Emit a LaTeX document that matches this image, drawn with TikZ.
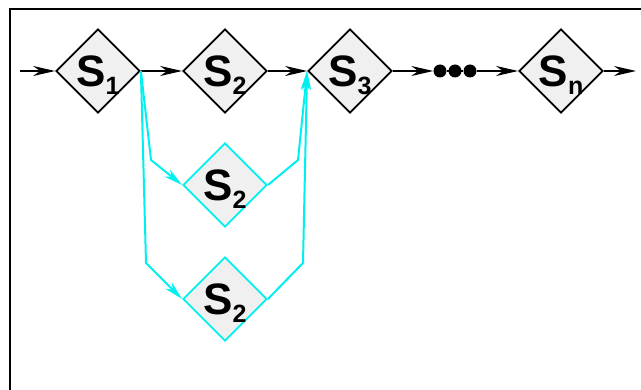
\documentclass[tikz,border=0pt]{standalone}
\usepackage{fontspec}
\setmainfont{Liberation Sans}
\usetikzlibrary{shapes.geometric,arrows.meta}

\definecolor{boxfill}{HTML}{F0F0F0}
\definecolor{branch}{HTML}{00F0F0}

% stage label: bold S with a lowered index
\newcommand{\stagelabel}[1]{%
  {\fontsize{44}{44}\selectfont\bfseries S}%
  \raisebox{-8pt}{\fontsize{25}{25}\selectfont\bfseries #1}}

\tikzset{
  stagebox/.style={shape=diamond, aspect=1, draw=black, line width=1.8pt,
    fill=boxfill, minimum width=84pt, minimum height=84pt, inner sep=0pt,
    text depth=0pt},
  branchbox/.style={stagebox, draw=branch},
  dotnode/.style={circle, fill=black, minimum size=13pt, inner sep=0pt},
  flow/.style={line width=1.5pt, -{Stealth[length=22pt,width=10pt,inset=7pt]}},
  bflow/.style={draw=branch, line width=2pt, -{Stealth[length=19pt,width=9pt,inset=6pt]}},
}

\begin{document}
\begin{tikzpicture}[x=1pt,y=-1pt]
  \useasboundingbox (0,0) rectangle (641,390);
  \clip (0,0) rectangle (641,390);

  % outer frame
  \draw[line width=2.6pt] (10,9) rectangle (700,450);

  % main chain
  \node[stagebox] (s1) at (98,71) {\stagelabel{1}};
  \node[stagebox] (s2) at (225,71) {\stagelabel{2}};
  \node[stagebox] (s3) at (350,71) {\stagelabel{3}};
  \node[dotnode] (d1) at (440,71) {};
  \node[dotnode] (d2) at (455,71) {};
  \node[dotnode] (d3) at (470,71) {};
  \node[stagebox] (sn) at (561,71) {\stagelabel{n}};

  % parallel copies of stage 2
  \node[branchbox] (b1) at (225,185) {\stagelabel{2}};
  \node[branchbox] (b2) at (225,299) {\stagelabel{2}};

  \coordinate (in) at (20,71);
  \coordinate (out) at (636,71);

  \draw[flow] (in) -- (s1.west);
  \draw[flow] (s1.east) -- (s2.west);
  \draw[flow] (s2.east) -- (s3.west);
  \draw[flow] (s3.east) -- (d1.west);
  \draw[line width=1.5pt] (d1) -- (d3);
  \draw[flow] (d3.east) -- (sn.west);
  \draw[flow] (sn.east) -- (out);

  % branch paths
  \draw[bflow] (s1.east) -- (151,160) -- (b1.west);
  \draw[bflow] (s1.east) -- (146,263) -- (b2.west);
  \draw[bflow] (b1.east) -- (298,160) -- (s3.west);
  \draw[bflow] (b2.east) -- (303,263) -- (s3.west);
\end{tikzpicture}
\end{document}
